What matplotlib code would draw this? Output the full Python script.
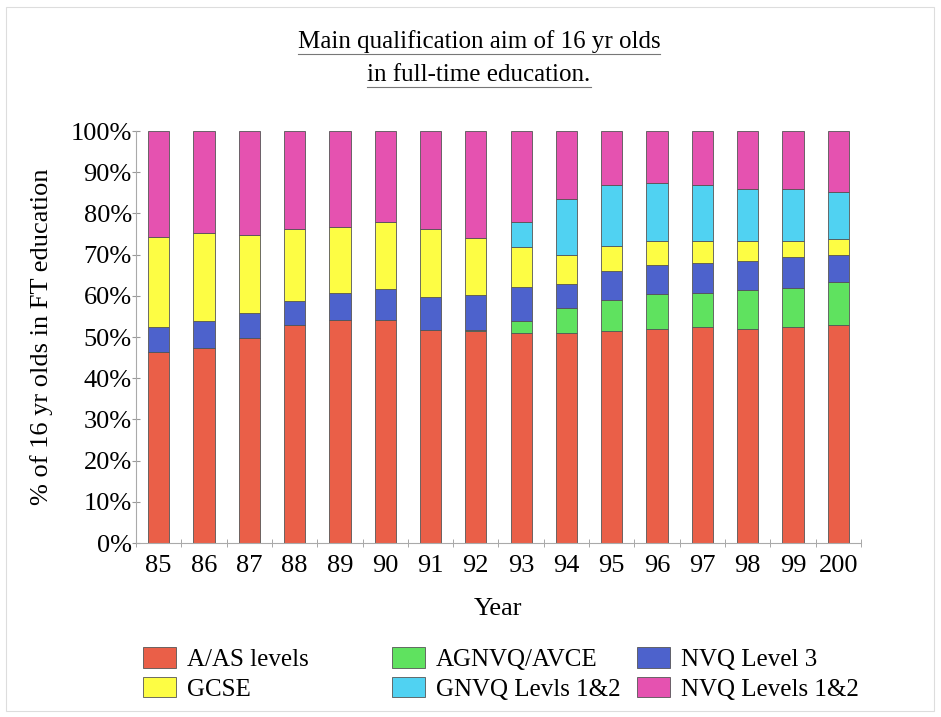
import numpy as np
import matplotlib
matplotlib.use('Agg')
from matplotlib import pyplot as plt
from matplotlib.lines import Line2D
from matplotlib.patches import Rectangle

plt.rcParams['font.family'] = ['Liberation Serif', 'DejaVu Serif']

# 年份与各资格所占百分比
years = ['85', '86', '87', '88', '89', '90', '91', '92',
         '93', '94', '95', '96', '97', '98', '99', '200']
a_as = [46.3, 47.3, 49.7, 53.0, 54.1, 54.1, 51.8, 51.5,
        50.9, 50.9, 51.4, 51.9, 52.4, 51.9, 52.4, 52.8]
agnvq = [0, 0, 0, 0, 0, 0, 0, 0.2,
         2.9, 6.2, 7.5, 8.5, 8.4, 9.5, 9.5, 10.5]
nvq3 = [6.2, 6.6, 6.2, 5.7, 6.6, 7.6, 8.0, 8.6,
        8.4, 5.7, 7.1, 7.1, 7.1, 7.0, 7.5, 6.5]
gcse = [21.8, 21.3, 18.8, 17.5, 16.1, 16.3, 16.5, 13.7,
        9.6, 7.1, 6.2, 5.7, 5.3, 4.9, 3.9, 4.0]
gnvq12 = [0, 0, 0, 0, 0, 0, 0, 0,
          6.1, 13.7, 14.7, 14.3, 13.7, 12.7, 12.6, 11.3]
nvq12 = [25.7, 24.8, 25.3, 23.8, 23.2, 22.0, 23.7, 26.0,
         22.1, 16.4, 13.1, 12.5, 13.1, 14.0, 14.1, 14.9]

series = [
    ('A/AS levels', a_as, '#ea5f48'),
    ('AGNVQ/AVCE', agnvq, '#5fe25f'),
    ('NVQ Level 3', nvq3, '#4d62cc'),
    ('GCSE', gcse, '#fdfd44'),
    ('GNVQ Levls 1&2', gnvq12, '#50d2f2'),
    ('NVQ Levels 1&2', nvq12, '#e552b0'),
]

fig = plt.figure(figsize=(9.41, 7.17), dpi=100)
ax = fig.add_axes([136 / 941, 1 - 543 / 717, (861 - 136) / 941, (543 - 131) / 717])

x = np.arange(len(years))
bottom = np.zeros(len(years))
bars = {}
for name, vals, col in series:
    vals = np.array(vals)
    bars[name] = ax.bar(x, vals, width=0.47, bottom=bottom, color=col,
                        edgecolor='#555555', linewidth=0.6)
    bottom += vals

ax.set_xlim(-0.5, len(years) - 0.5)
ax.set_ylim(0, 100)
ax.set_yticks(np.arange(0, 101, 10))
ax.set_yticklabels(['%d%%' % v for v in range(0, 101, 10)])
ax.set_xticks(x)
ax.set_xticklabels(years)
ax.set_xticks(np.arange(-0.5, len(years), 1), minor=True)
ax.tick_params(axis='x', which='major', length=0, labelsize=19, pad=9)
ax.tick_params(axis='x', which='minor', length=6, direction='inout', color='#999999')
ax.tick_params(axis='y', length=6, direction='inout', color='#999999', labelsize=19, pad=0)

for s in ['top', 'right']:
    ax.spines[s].set_visible(False)
for s in ['left', 'bottom']:
    ax.spines[s].set_color('#aaaaaa')
    ax.spines[s].set_linewidth(0.8)

ax.set_ylabel('% of 16 yr olds in FT education', fontsize=19)
ax.yaxis.set_label_coords((53 - 136) / 725, 0.5)
ax.set_xlabel('Year', fontsize=19)
ax.xaxis.set_label_coords(0.5, (543 - 598) / 412)

# 标题 + 下划线
t1 = fig.text(479 / 941, 1 - 42 / 717, 'Main qualification aim of 16 yr olds',
              ha='center', va='center', fontsize=18)
t2 = fig.text(479 / 941, 1 - 75 / 717, 'in full-time education.',
              ha='center', va='center', fontsize=18)
fig.canvas.draw()
r = fig.canvas.get_renderer()
for t in (t1, t2):
    bb = t.get_window_extent(r).transformed(fig.transFigure.inverted())
    y = bb.y0 - 1 / 717
    fig.add_artist(Line2D([bb.x0, bb.x1], [y, y], color='#777777', linewidth=0.8))

# 图例: 三列, 每列两项
columns = [(['A/AS levels', 'GCSE'], 143),
           (['AGNVQ/AVCE', 'GNVQ Levls 1&2'], 392),
           (['NVQ Level 3', 'NVQ Levels 1&2'], 637)]
for names, px in columns:
    leg = fig.legend([bars[n] for n in names], names, loc='upper left',
                     bbox_to_anchor=(px / 941, 1 - 647 / 717), frameon=False,
                     fontsize=18, handlelength=1.3, handleheight=0.9,
                     labelspacing=0.22, handletextpad=0.45,
                     borderpad=0, borderaxespad=0)

# 外框
fig.add_artist(Rectangle((6 / 941, 6 / 717), 928 / 941, 704 / 717, transform=fig.transFigure,
                         fill=False, edgecolor='#dddddd', linewidth=0.8))

fig.savefig('out.png', dpi=100)
